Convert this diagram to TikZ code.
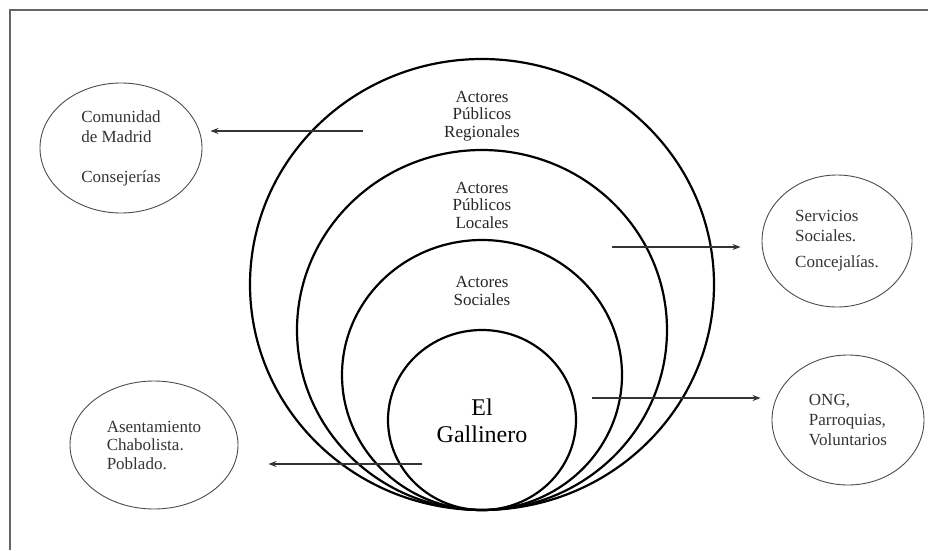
\documentclass[tikz,border=0pt]{standalone}
\usepackage{fontspec}
\setmainfont{Liberation Serif}
\usetikzlibrary{arrows.meta,shapes}
\tikzset{
  basenode/.style = {align=center, inner sep=0pt, text centered,
    font=\fontsize{17}{17.5}\selectfont},
  act_ring/.style = {ellipse, draw=black, line width=2.2pt,
    inner sep=0pt},% anillo de actores
  act_lbl/.style = {basenode, text=black!85},% etiqueta del anillo
  core_lbl/.style = {basenode, font=\fontsize{24}{27}\selectfont},% El Gallinero
  ext_n/.style = {ellipse, draw=black!70, line width=0.9pt, inner sep=0pt,
    align=left, text=black!80, font=\fontsize{17}{20}\selectfont},% entidad externa
  flow/.style = {-{Stealth[length=8pt,width=6pt]}, line width=1.2pt,
    draw=black!80}% flecha de relacion
}
\begin{document}
\begin{tikzpicture}[x=1pt,y=1pt]
\useasboundingbox (0,0) rectangle (928,550);
% marco
\draw[black!60, line width=1.4pt] (10,0) -- (10,540) -- (928,540);

% anillos de actores
\node [act_ring, minimum width=464pt, minimum height=451pt] (regional) at (482,265.5) {};
\node [act_ring, minimum width=370pt, minimum height=360pt] (local) at (482,220) {};
\node [act_ring, minimum width=280pt, minimum height=270pt] (social) at (482,175) {};
\node [act_ring, minimum width=188pt, minimum height=180pt] (gallinero) at (482,130) {};

\node [act_lbl] (regional_lbl) at (482,434) {Actores\\Públicos\\Regionales};
\node [act_lbl] (local_lbl) at (482,345) {Actores\\Públicos\\Locales};
\node [act_lbl] (social_lbl) at (482,259) {Actores\\Sociales};
\node [core_lbl] (gallinero_lbl) at (482,129) {El\\Gallinero};

% entidades externas
\node [ext_n, minimum width=162pt, minimum height=130pt] (comunidad) at (121,402)
  {Comunidad\\de Madrid\\[20pt]Consejerías};
\node [ext_n, minimum width=150pt, minimum height=132pt] (servicios) at (837,309)
  {Servicios\\Sociales.\\[6pt]Concejalías.};
\node [ext_n, minimum width=152pt, minimum height=130pt] (ong) at (848,130)
  {ONG,\\Parroquias,\\Voluntarios};
\node [ext_n, minimum width=168pt, minimum height=128pt,
  font=\fontsize{17}{18.5}\selectfont] (asentamiento) at (154,105)
  {Asentamiento\\Chabolista.\\Poblado.};

% flechas
\coordinate (from_reg) at (363,419);
\coordinate (from_loc) at (612,303);
\coordinate (from_gal) at (592,152);
\coordinate (from_gal_l) at (422,86);
\draw [flow, shorten >=8pt] (from_reg) -- (from_reg -| comunidad.east);
\draw [flow, shorten >=21pt] (from_loc) -- (from_loc -| servicios.west);
\draw [flow, shorten >=11pt] (from_gal) -- (from_gal -| ong.west);
\draw [flow, shorten >=30pt] (from_gal_l) -- (from_gal_l -| asentamiento.east);
\end{tikzpicture}
\end{document}
